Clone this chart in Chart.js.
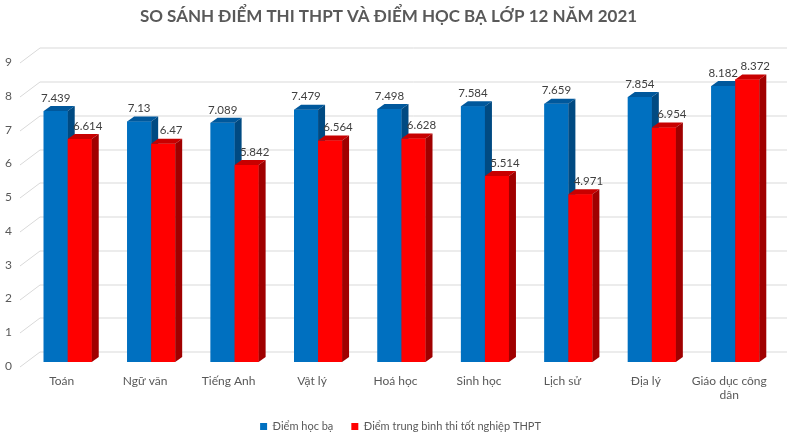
<!DOCTYPE html>
<html>
<head>
<meta charset="utf-8">
<script src="https://cdn.jsdelivr.net/npm/chart.js@4.4.1/dist/chart.umd.min.js"></script>
<style>
html,body{margin:0;padding:0;background:#fff;}
#wrap{width:787px;height:442px;position:relative;}
</style>
</head>
<body>
<div id="wrap"><canvas id="c" width="787" height="442"></canvas></div>
<script>
const categories = ['Toán', 'Ngữ văn', 'Tiếng Anh', 'Vật lý', 'Hoá học', 'Sinh học', 'Lịch sử', 'Địa lý', ['Giáo dục công', 'dân']];
const hocBa = [7.439, 7.13, 7.089, 7.479, 7.498, 7.584, 7.659, 7.854, 8.182];
const thpt = [6.614, 6.47, 5.842, 6.564, 6.628, 5.514, 4.971, 6.954, 8.372];
const yTicks = [0, 1, 2, 3, 4, 5, 6, 7, 8, 9];
const seriesNames = ['Điểm học bạ', 'Điểm trung bình thi tốt nghiệp THPT'];
const titleText = 'SO SÁNH ĐIỂM THI THPT VÀ ĐIỂM HỌC BẠ LỚP 12 NĂM 2021';

const FONT = "Lato, 'Open Sans', sans-serif";
const DX = 7, DY = 5;
const faces = [
  {top: '#00589c', side: '#004a82'},
  {top: '#c80000', side: '#a00000'}
];

const gridPlugin = {
  id: 'grid3d',
  beforeDatasetsDraw(chart) {
    const ctx = chart.ctx, ys = chart.scales.y;
    ctx.save();
    ctx.strokeStyle = '#d9d9d9';
    ctx.lineWidth = 1;
    yTicks.forEach(v => {
      const yp = Math.round(ys.getPixelForValue(v)) + 0.5;
      ctx.beginPath();
      ctx.moveTo(20, yp + 4.5);
      ctx.lineTo(40, yp - 10.5);
      ctx.lineTo(787, yp - 10.5);
      ctx.stroke();
    });
    ctx.restore();
  }
};

// Redraw each bar (via the library's own element) with its top and side faces,
// category by category, series by series, so the 3D faces overlap correctly.
const facePlugin = {
  id: 'faces3d',
  afterDatasetsDraw(chart) {
    const ctx = chart.ctx;
    const metas = chart.data.datasets.map((d, i) => chart.getDatasetMeta(i));
    ctx.save();
    for (let c = 0; c < categories.length; c++) {
      metas.forEach((meta, di) => {
        const bar = meta.data[c];
        if (!bar) return;
        bar.draw(ctx);
        const f = faces[di];
        const p = bar.getProps(['x', 'y', 'base', 'width'], true);
        const l = p.x - p.width / 2, r = p.x + p.width / 2;
        ctx.fillStyle = f.top;
        ctx.beginPath();
        ctx.moveTo(l, p.y); ctx.lineTo(r, p.y); ctx.lineTo(r + DX, p.y - DY); ctx.lineTo(l + DX, p.y - DY);
        ctx.closePath(); ctx.fill();
        ctx.fillStyle = f.side;
        ctx.beginPath();
        ctx.moveTo(r, p.y); ctx.lineTo(r + DX, p.y - DY); ctx.lineTo(r + DX, p.base - DY); ctx.lineTo(r, p.base);
        ctx.closePath(); ctx.fill();
      });
    }
    // value labels
    ctx.font = '11.5px ' + FONT;
    ctx.fillStyle = '#404040';
    ctx.textAlign = 'center';
    ctx.textBaseline = 'middle';
    chart.data.datasets.forEach((ds, di) => {
      metas[di].data.forEach((bar, i) => {
        const p = bar.getProps(['x', 'y'], true);
        ctx.fillText(String(ds.data[i]), p.x + (di === 1 ? 8 : 0), p.y - 13);
      });
    });
    ctx.restore();
  }
};

const legendShift = {
  id: 'legendShift',
  afterLayout(chart) {
    if (chart.legend) { chart.legend.left += 12; chart.legend.right += 12; }
  }
};

new Chart(document.getElementById('c'), {
  type: 'bar',
  data: {
    labels: categories,
    datasets: [
      {label: seriesNames[0], data: hocBa, backgroundColor: '#0070c0', borderWidth: 0},
      {label: seriesNames[1], data: thpt, backgroundColor: '#ff0000', borderWidth: 0}
    ]
  },
  options: {
    responsive: false,
    animation: false,
    layout: {padding: {left: 0, right: 10, top: 0, bottom: 0}},
    categoryPercentage: 0.5755,
    barPercentage: 1,
    plugins: {
      tooltip: {enabled: false},
      title: {
        display: true, text: titleText, color: '#595959',
        font: {family: FONT, size: 17, weight: 'bold'},
        padding: {top: 6, bottom: 32}
      },
      legend: {
        position: 'bottom',
        labels: {color: '#595959', font: {family: FONT, size: 11}, boxWidth: 7, boxHeight: 7, padding: 18}
      }
    },
    scales: {
      x: {
        grid: {display: false, drawTicks: false},
        border: {display: false},
        ticks: {color: '#595959', font: {family: FONT, size: 12}, labelOffset: -6, padding: 12, maxRotation: 0, autoSkip: false},
        afterFit(s) { s.height = 41; }
      },
      y: {
        min: 0, max: 9,
        grid: {display: false, drawTicks: false},
        border: {display: false},
        ticks: {stepSize: 1, color: '#595959', font: {family: FONT, size: 12}, padding: 14, labelOffset: 4},
        afterFit(s) { s.width = 26; }
      }
    }
  },
  plugins: [gridPlugin, facePlugin, legendShift]
});
</script>
</body>
</html>
